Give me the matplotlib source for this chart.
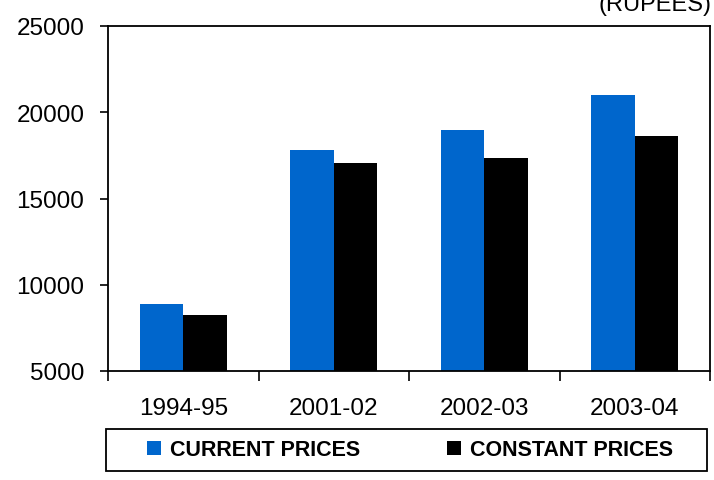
import numpy as np
from matplotlib import pyplot as plt
from matplotlib.patches import Rectangle

years = ['1994-95', '2001-02', '2002-03', '2003-04']
current = [8900, 17800, 18950, 21000]
constant = [8250, 17030, 17370, 18600]

plt.rcParams['font.family'] = ['Liberation Sans', 'DejaVu Sans']

fig = plt.figure(figsize=(7.14, 4.81), dpi=100)
ax = fig.add_axes([108 / 714, 1 - 372 / 481, 602 / 714, 345 / 481])

x = np.arange(len(years))
w = 0.29
ax.bar(x - w / 2, current, w, color='#0066cc', label='CURRENT PRICES')
ax.bar(x + w / 2, constant, w, color='black', label='CONSTANT PRICES')

ax.set_ylim(5000, 25000)
ax.set_xlim(-0.5, len(years) - 0.5)
ax.set_yticks(np.arange(5000, 25001, 5000))
ax.set_xticks(x)
ax.set_xticklabels(years)
ax.set_xticks(np.arange(-0.5, len(years) - 0.4, 1), minor=True)
ax.tick_params(axis='x', which='major', length=0, pad=19, labelsize=17.5)
ax.tick_params(axis='x', which='minor', length=7, width=1.2, direction='out')
ax.tick_params(axis='y', length=6, width=1.2, direction='out', labelsize=17.5, pad=11)
for s in ax.spines.values():
    s.set_linewidth(1.3)

# unit label, partly off the top like the original
fig.text(0.997, 1 - 11 / 481, '(RUPEES)', ha='right', va='baseline', fontsize=17)

# legend box
fig.patches.append(Rectangle((106 / 714, 1 - 472 / 481), 601 / 714, 42 / 481,
                             transform=fig.transFigure, fill=False,
                             edgecolor='black', linewidth=1.3))
leg = fig.legend(loc='center', ncol=2, bbox_to_anchor=(410 / 714, 1 - 451 / 481),
                 frameon=False, handlelength=0.65, handleheight=0.65,
                 prop={'weight': 'bold', 'size': 15.5}, borderaxespad=0, borderpad=0,
                 handletextpad=0.45, columnspacing=4.0)

plt.savefig('out.png', dpi=100)
